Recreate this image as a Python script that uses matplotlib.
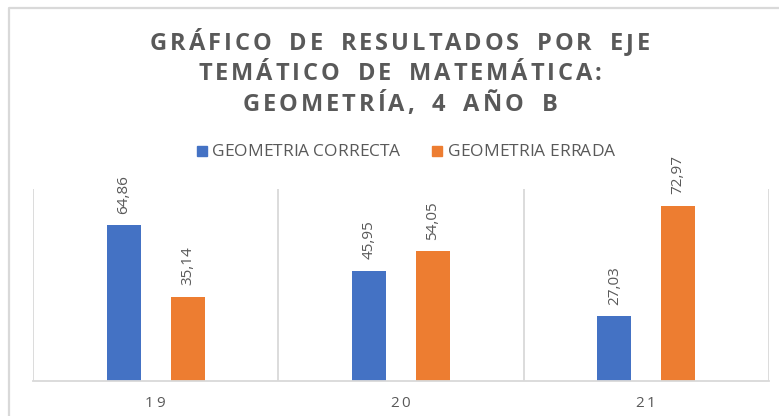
import matplotlib
matplotlib.use("Agg")
import numpy as np
import matplotlib.pyplot as plt
from matplotlib.font_manager import FontProperties
from matplotlib.lines import Line2D
from matplotlib.patches import Rectangle

categories = ["19", "20", "21"]
correcta = [64.86, 45.95, 27.03]
errada = [35.14, 54.05, 72.97]
series_names = ["GEOMETRIA CORRECTA", "GEOMETRIA ERRADA"]
title_lines = ["GRÁFICO DE RESULTADOS POR EJE",
               "TEMÁTICO DE MATEMÁTICA:",
               "GEOMETRÍA, 4 AÑO B"]

W, H = 779, 416
BLUE, ORANGE = "#4472C4", "#ED7D31"
GRAY_TXT, GRAY_LN = "#595959", "#d9d9d9"

fig = plt.figure(figsize=(W / 100, H / 100), dpi=100)
r = fig.canvas.get_renderer()


def glyph_widths(s, fp, space_scale=1.0):
    wid = lambda t: r.get_text_width_height_descent(t, fp, ismath=False)[0]
    sp = (wid("a a") - wid("aa")) * space_scale
    return [sp if c == " " else wid(c) for c in s]


def fit_spacing(s, fp, width, space_scale=1.0):
    ws = glyph_widths(s, fp, space_scale)
    return (width - sum(ws)) / (len(s) - 1)


def spaced_text(x0, base_y, s, fp, spacing, center=True, space_scale=1.0, color=GRAY_TXT):
    # matplotlib has no letter-spacing, so place glyph by glyph (pixel coords, y from top)
    ws = glyph_widths(s, fp, space_scale)
    total = sum(ws) + spacing * (len(s) - 1)
    x = x0 - total / 2 if center else x0
    for c, w in zip(s, ws):
        if c != " ":
            fig.text(x / W, 1 - base_y / H, c, fontproperties=fp, color=color,
                     ha="left", va="baseline")
        x += w + spacing


# outer frame (top and left edges visible)
fig.add_artist(Line2D([9 / W, 9 / W, 1], [0, 1 - 8 / H, 1 - 8 / H],
                      transform=fig.transFigure, color=GRAY_LN, lw=1.6))

ax = fig.add_axes([33 / W, 35 / H, 736 / W, 192 / H])
x = np.arange(len(categories))
bw, off = 0.139, 0.13
b1 = ax.bar(x - off, correcta, bw, color=BLUE)
b2 = ax.bar(x + off, errada, bw, color=ORANGE)
ax.set_xlim(-0.5, 2.5)
ax.set_ylim(0, 80)
for xb in np.arange(-0.5, 3, 1):
    ax.axvline(xb, color=GRAY_LN, lw=1.3, zorder=0)
for s in ["left", "right", "top"]:
    ax.spines[s].set_visible(False)
ax.spines["bottom"].set_color(GRAY_LN)
ax.spines["bottom"].set_linewidth(1.3)
ax.set_yticks([])
ax.set_xticks([])

for bars, vals in [(b1, correcta), (b2, errada)]:
    for rect, v in zip(bars, vals):
        ax.text(rect.get_x() + rect.get_width() / 2, v + 4.8,
                f"{v:.2f}".replace(".", ","), rotation=90, ha="center",
                va="bottom", fontsize=11, color=GRAY_TXT, family="Open Sans")

# title: letter-spaced with wider word gaps
title_fp = FontProperties(family="Open Sans", weight="bold", size=17)
t_sp = fit_spacing(title_lines[0], title_fp, 500, space_scale=2.0)
for line, base in zip(title_lines, [50, 80, 111]):
    spaced_text(400, base, line, title_fp, t_sp, space_scale=2.0)

# category labels
tick_fp = FontProperties(family="Open Sans", size=11)
for i, c in enumerate(categories):
    cx = 33 + (i + 0.5) * 736 / len(categories)
    spaced_text(cx - 1, 407, c, tick_fp, fit_spacing(c, tick_fp, 20))

# legend
leg_fp = FontProperties(family="Open Sans", size=12.5)
for name, col, sq_x, tx, tw in [(series_names[0], BLUE, 197, 212, 188),
                                (series_names[1], ORANGE, 432, 448, 167)]:
    fig.add_artist(Rectangle((sq_x / W, 1 - 156 / H), 10 / W, 10 / H,
                             transform=fig.transFigure, color=col))
    spaced_text(tx, 156, name, leg_fp, fit_spacing(name, leg_fp, tw), center=False)

fig.savefig("out.png", dpi=100)
